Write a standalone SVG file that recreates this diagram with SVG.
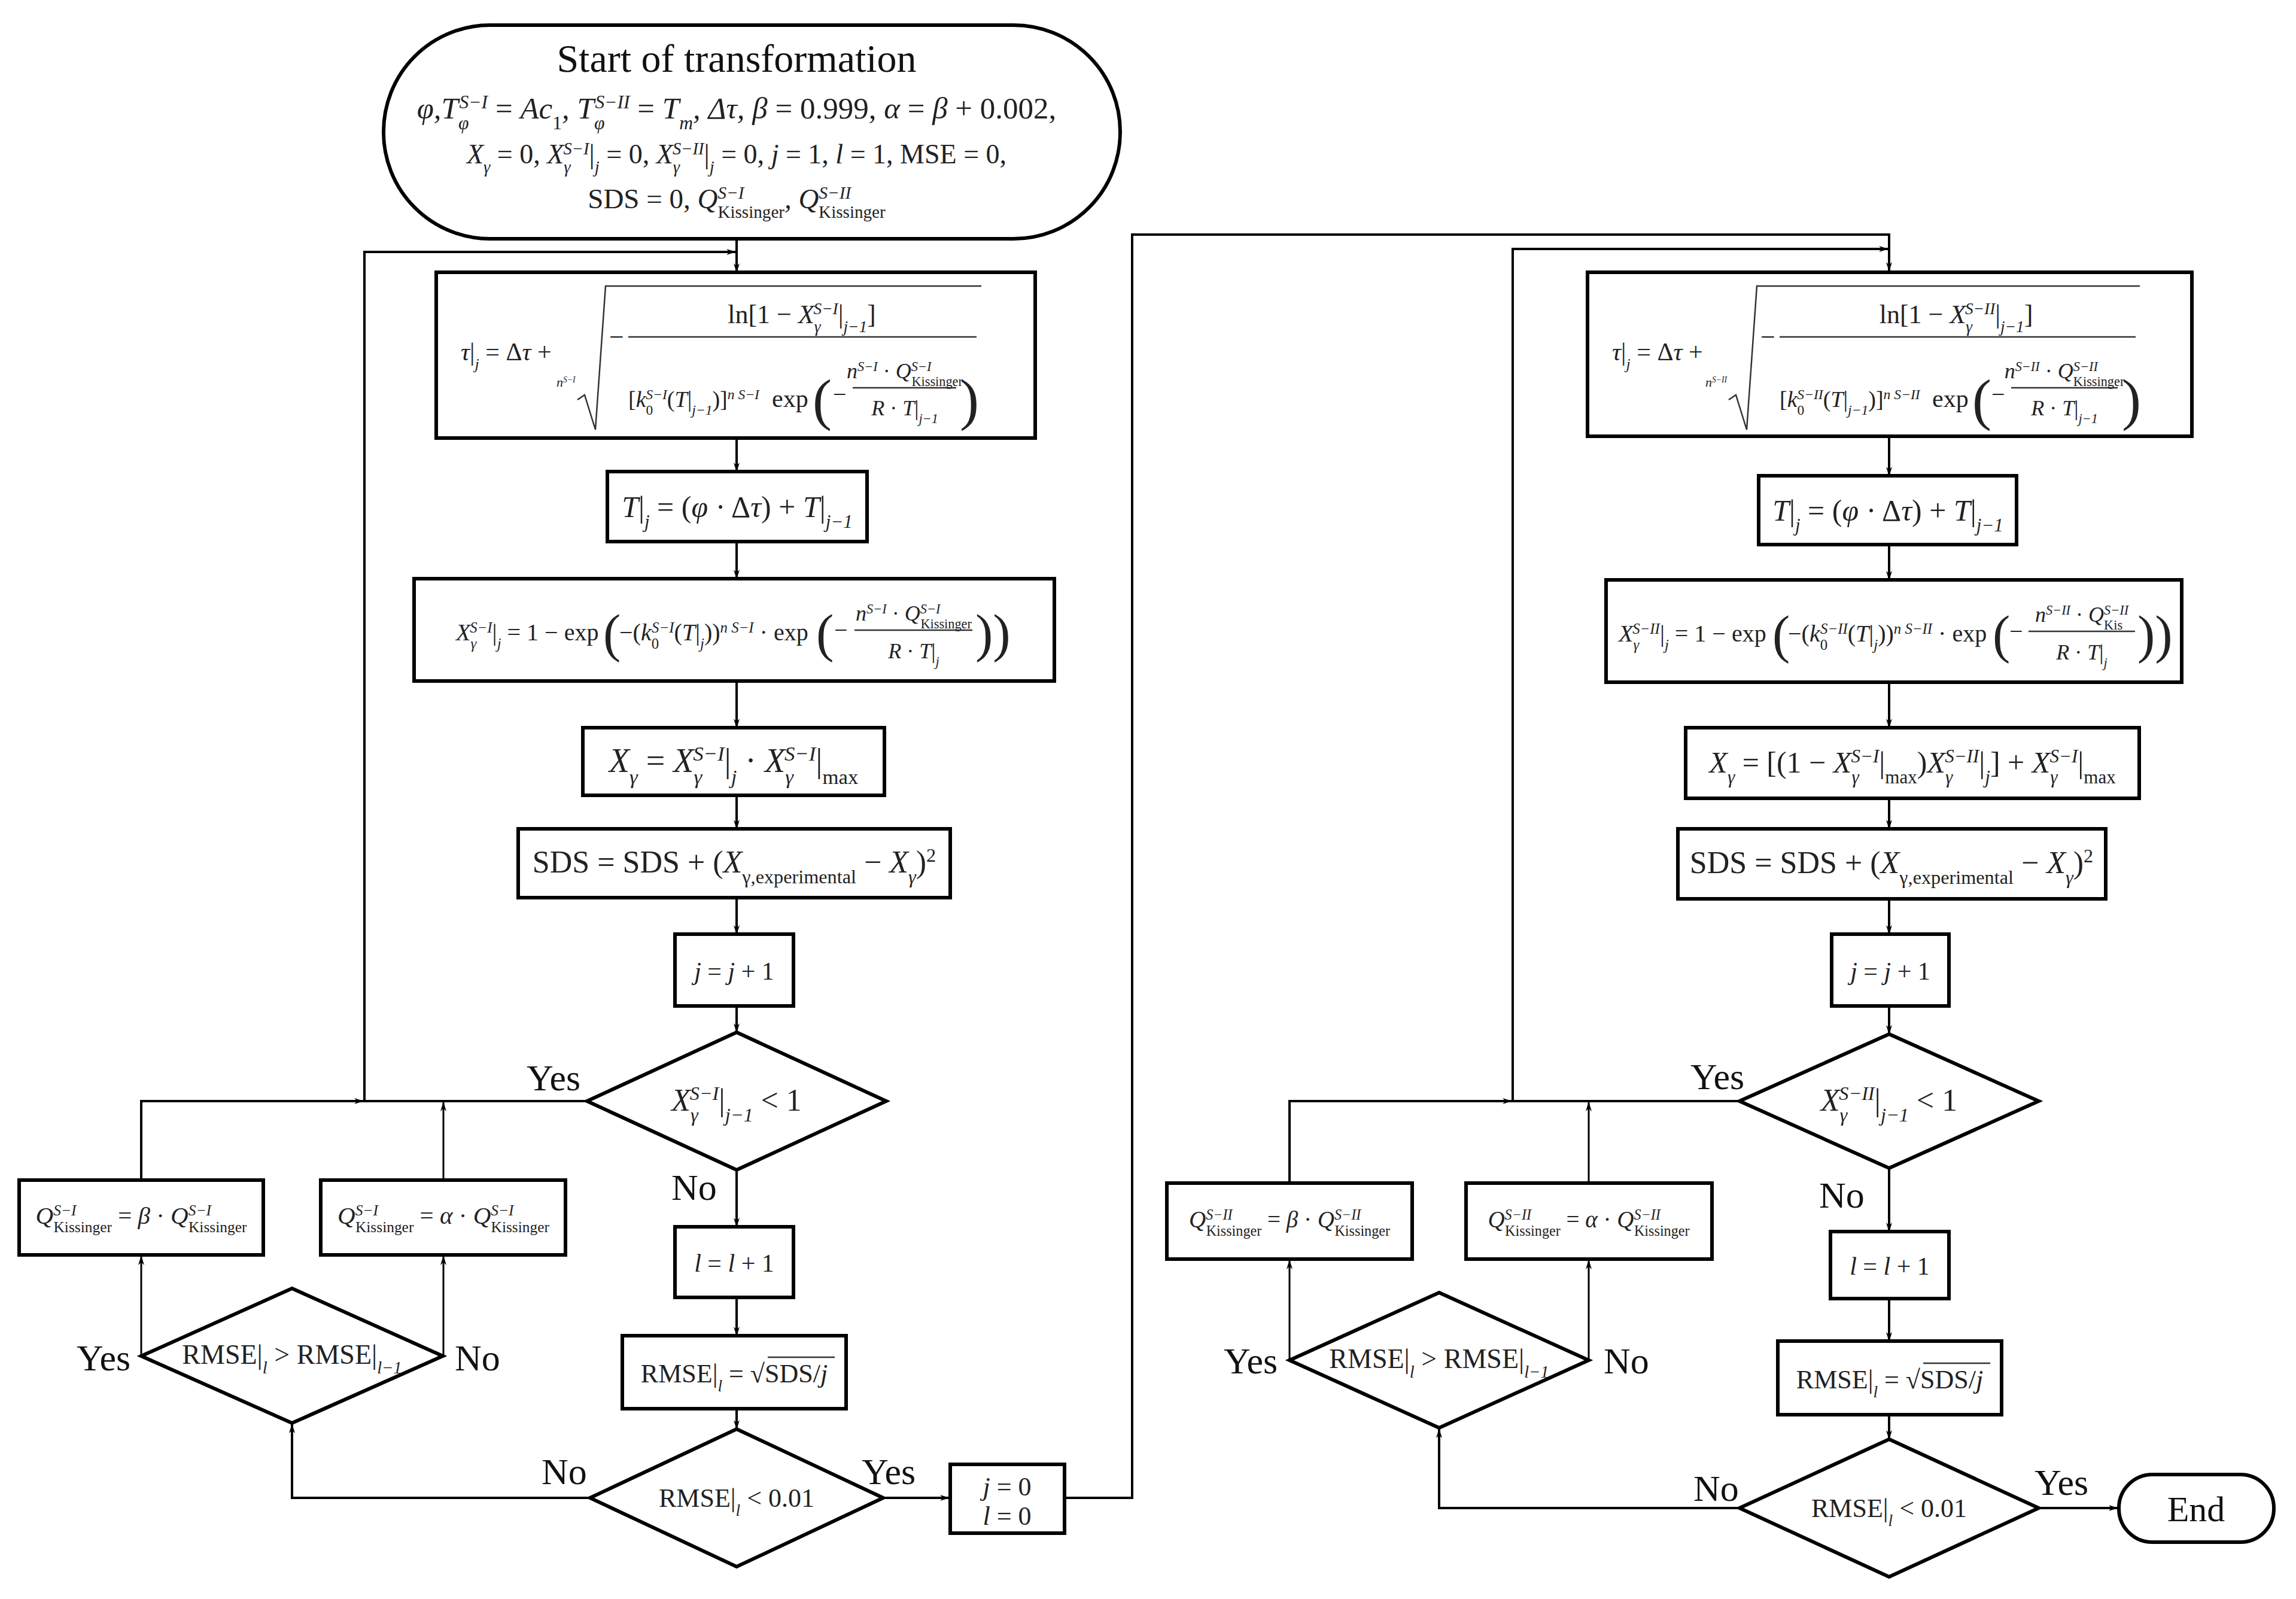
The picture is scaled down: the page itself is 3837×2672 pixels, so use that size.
<svg xmlns="http://www.w3.org/2000/svg" width="3837" height="2672" viewBox="0 0 3837 2672">
<defs>
<marker id="ar" viewBox="0 0 16 10" refX="15" refY="5" markerWidth="16" markerHeight="10" markerUnits="userSpaceOnUse" orient="auto">
<path d="M0,0 L16,5 L0,10 L5,5 z" fill="#000"/>
</marker>
<style>
.n{fill:#fff;stroke:#000;stroke-width:6}
.c{fill:none;stroke:#000;stroke-width:4}
.c2{fill:none;stroke:#000;stroke-width:3}
.m{font-family:"Liberation Serif",serif;font-style:italic;fill:#222}
.r{font-style:normal}
.sp{font-size:62%;baseline-shift:super}
.sb{font-size:62%;baseline-shift:sub}
.lb{font-family:"Liberation Serif",serif;font-size:62px;fill:#111}
.t{font-family:"Liberation Serif",serif;fill:#111}
.fl{stroke:#333;stroke-width:2.5;fill:none}
</style>
</defs>

<g id="connectors">
<path class="c" marker-end="url(#ar)" d="M1231,399 V455"/>
<path class="c" marker-end="url(#ar)" d="M1231,732 V788"/>
<path class="c" marker-end="url(#ar)" d="M1231,905 V967"/>
<path class="c" marker-end="url(#ar)" d="M1231,1138 V1216"/>
<path class="c" marker-end="url(#ar)" d="M1231,1329 V1385"/>
<path class="c" marker-end="url(#ar)" d="M1231,1500 V1561"/>
<path class="c" marker-end="url(#ar)" d="M1231,1681 V1725"/>
<path class="c" marker-end="url(#ar)" d="M1231,1955 V2050"/>
<path class="c" marker-end="url(#ar)" d="M1231,2168 V2232"/>
<path class="c" marker-end="url(#ar)" d="M1231,2354 V2388"/>
<path class="c" marker-end="url(#ar)" d="M981,1840 H609 V421 H1229"/>
<path class="c" marker-end="url(#ar)" d="M236,1972 V1840 H607"/>
<path class="c2" marker-end="url(#ar)" d="M741,1972 V1842"/>
<path class="c2" marker-end="url(#ar)" d="M236,2266 V2099"/>
<path class="c2" marker-end="url(#ar)" d="M741,2266 V2099"/>
<path class="c" marker-end="url(#ar)" d="M986,2503 H488 V2380"/>
<path class="c" marker-end="url(#ar)" d="M1476,2503 H1586"/>
<path class="c" marker-end="url(#ar)" d="M1779,2503 H1892 V392 H3157 V453"/>

<path class="c" marker-end="url(#ar)" d="M3157,729 V795"/>
<path class="c" marker-end="url(#ar)" d="M3157,910 V969"/>
<path class="c" marker-end="url(#ar)" d="M3157,1140 V1216"/>
<path class="c" marker-end="url(#ar)" d="M3157,1334 V1385"/>
<path class="c" marker-end="url(#ar)" d="M3157,1502 V1561"/>
<path class="c" marker-end="url(#ar)" d="M3157,1681 V1728"/>
<path class="c" marker-end="url(#ar)" d="M3157,1952 V2058"/>
<path class="c" marker-end="url(#ar)" d="M3157,2170 V2241"/>
<path class="c" marker-end="url(#ar)" d="M3157,2364 V2405"/>
<path class="c" marker-end="url(#ar)" d="M2907,1840 H2528 V416 H3155"/>
<path class="c" marker-end="url(#ar)" d="M2155,1977 V1840 H2526"/>
<path class="c2" marker-end="url(#ar)" d="M2655,1977 V1842"/>
<path class="c2" marker-end="url(#ar)" d="M2155,2273 V2106"/>
<path class="c2" marker-end="url(#ar)" d="M2655,2273 V2106"/>
<path class="c" marker-end="url(#ar)" d="M2907,2520 H2405 V2388"/>
<path class="c" marker-end="url(#ar)" d="M3407,2520 H3539"/>

<text class="lb" x="880" y="1822">Yes</text>
<text class="lb" x="1122" y="2005">No</text>
<text class="lb" x="128" y="2290">Yes</text>
<text class="lb" x="760" y="2290">No</text>
<text class="lb" x="905" y="2480">No</text>
<text class="lb" x="1440" y="2480">Yes</text>
<text class="lb" x="2825" y="1820">Yes</text>
<text class="lb" x="3040" y="2018">No</text>
<text class="lb" x="2045" y="2295">Yes</text>
<text class="lb" x="2680" y="2295">No</text>
<text class="lb" x="2830" y="2508">No</text>
<text class="lb" x="3400" y="2498">Yes</text>
</g>

<g id="start">
<rect class="n" x="641" y="42" width="1231" height="357" rx="178"/>
<text class="t" x="1231" y="120" text-anchor="middle" style="font-size:66px">Start of transformation</text>
<text class="m" x="1231" y="198" text-anchor="middle" style="font-size:51px">φ,T<tspan class="sb">φ</tspan><tspan class="sp" dx="-16">S−I</tspan><tspan class="r"> = </tspan>Ac<tspan class="sb r">1</tspan>, T<tspan class="sb">φ</tspan><tspan class="sp" dx="-16">S−II</tspan><tspan class="r"> = </tspan>T<tspan class="sb">m</tspan>, Δτ, β<tspan class="r"> = 0.999, </tspan>α<tspan class="r"> = </tspan>β<tspan class="r"> + 0.002,</tspan></text>
<text class="m" x="1231" y="273" text-anchor="middle" style="font-size:46px">X<tspan class="sb">γ</tspan><tspan class="r"> = 0,  </tspan>X<tspan class="sb">γ</tspan><tspan class="sp" dx="-12">S−I</tspan><tspan class="r">|</tspan><tspan class="sb">j</tspan><tspan class="r"> = 0,  </tspan>X<tspan class="sb">γ</tspan><tspan class="sp" dx="-12">S−II</tspan><tspan class="r">|</tspan><tspan class="sb">j</tspan><tspan class="r"> = 0, </tspan>j<tspan class="r"> = 1, </tspan>l<tspan class="r"> = 1, MSE = 0,</tspan></text>
<text class="m" x="1231" y="348" text-anchor="middle" style="font-size:47px"><tspan class="r">SDS = 0, </tspan>Q<tspan class="sp">S−I</tspan><tspan class="sb r" dx="-44">Kissinger</tspan>, Q<tspan class="sp">S−II</tspan><tspan class="sb r" dx="-54">Kissinger</tspan></text>
</g>

<g id="tau1">
<rect class="n" x="729" y="455" width="1001" height="277"/>
<text class="m" x="770" y="602" style="font-size:42px">τ<tspan class="r">|</tspan><tspan class="sb">j</tspan><tspan class="r"> = Δ</tspan>τ<tspan class="r"> +</tspan></text>
<text class="m" x="930" y="646" style="font-size:22px">n<tspan class="sp">S−I</tspan></text>
<polyline class="fl" points="965,668 977,660 995,718 1012,478 1640,478"/>
<text class="m r" x="1018" y="578" style="font-size:44px">−</text>
<line class="fl" x1="1050" y1="563" x2="1632" y2="563"/>
<text class="m" x="1340" y="540" text-anchor="middle" style="font-size:44px"><tspan class="r">ln[1 − </tspan>X<tspan class="sb">γ</tspan><tspan class="sp" dx="-12">S−I</tspan><tspan class="r">|</tspan><tspan class="sb">j−1</tspan><tspan class="r">]</tspan></text>
<text class="m" x="1050" y="680" style="font-size:38px"><tspan class="r">[</tspan>k<tspan class="sb r">0</tspan><tspan class="sp" dx="-12">S−I</tspan><tspan class="r">(</tspan>T<tspan class="r">|</tspan><tspan class="sb">j−1</tspan><tspan class="r">)]</tspan><tspan class="sp">n S−I</tspan></text>
<text class="m r" x="1290" y="680" style="font-size:42px">exp</text>
<text class="m r" x="1358" y="700" style="font-size:96px">(</text>
<text class="m r" x="1604" y="700" style="font-size:96px">)</text>
<text class="m r" x="1392" y="672" style="font-size:40px">−</text>
<line class="fl" x1="1425" y1="648" x2="1598" y2="648"/>
<text class="m" x="1512" y="632" text-anchor="middle" style="font-size:36px">n<tspan class="sp">S−I</tspan><tspan class="r"> · </tspan>Q<tspan class="sp">S−I</tspan><tspan class="sb r" dx="-33">Kissinger</tspan></text>
<text class="m" x="1512" y="694" text-anchor="middle" style="font-size:36px">R<tspan class="r"> · </tspan>T<tspan class="r">|</tspan><tspan class="sb">j−1</tspan></text>
</g>

<g id="T1">
<rect class="n" x="1015" y="788" width="434" height="117"/>
<text class="m" x="1232" y="864" text-anchor="middle" style="font-size:50px">T<tspan class="r">|</tspan><tspan class="sb">j</tspan><tspan class="r"> = (</tspan>φ<tspan class="r"> · Δ</tspan>τ<tspan class="r">) + </tspan>T<tspan class="r">|</tspan><tspan class="sb">j−1</tspan></text>
</g>

<g id="X1">
<rect class="n" x="692" y="967" width="1070" height="171"/>
<text class="m" x="762" y="1070" style="font-size:40px">X<tspan class="sb">γ</tspan><tspan class="sp" dx="-11">S−I</tspan><tspan class="r">|</tspan><tspan class="sb">j</tspan><tspan class="r"> = 1 − exp</tspan></text>
<text class="m r" x="1008" y="1088" style="font-size:88px">(</text>
<text class="m" x="1035" y="1070" style="font-size:40px"><tspan class="r">−(</tspan>k<tspan class="sb r">0</tspan><tspan class="sp" dx="-12">S−I</tspan><tspan class="r">(</tspan>T<tspan class="r">|</tspan><tspan class="sb">j</tspan><tspan class="r">))</tspan><tspan class="sp">n S−I</tspan><tspan class="r"> · exp</tspan></text>
<text class="m r" x="1364" y="1088" style="font-size:88px">(</text>
<text class="m r" x="1394" y="1066" style="font-size:40px">−</text>
<line class="fl" x1="1428" y1="1053" x2="1625" y2="1053"/>
<text class="m" x="1527" y="1037" text-anchor="middle" style="font-size:36px">n<tspan class="sp">S−I</tspan><tspan class="r"> · </tspan>Q<tspan class="sp">S−I</tspan><tspan class="sb r" dx="-33">Kissinger</tspan></text>
<text class="m" x="1527" y="1100" text-anchor="middle" style="font-size:36px">R<tspan class="r"> · </tspan>T<tspan class="r">|</tspan><tspan class="sb">j</tspan></text>
<text class="m r" x="1630" y="1088" style="font-size:88px">))</text>
</g>

<g id="Xg1">
<rect class="n" x="974" y="1216" width="504" height="113"/>
<text class="m" x="1226" y="1290" text-anchor="middle" style="font-size:56px">X<tspan class="sb">γ</tspan><tspan class="r"> = </tspan>X<tspan class="sb">γ</tspan><tspan class="sp" dx="-15">S−I</tspan><tspan class="r">|</tspan><tspan class="sb">j</tspan><tspan class="r"> · </tspan>X<tspan class="sb">γ</tspan><tspan class="sp" dx="-15">S−I</tspan><tspan class="r">|</tspan><tspan class="sb r">max</tspan></text>
</g>

<g id="SDS1">
<rect class="n" x="866" y="1385" width="722" height="115"/>
<text class="m" x="1227" y="1458" text-anchor="middle" style="font-size:52px"><tspan class="r">SDS = SDS + (</tspan>X<tspan class="sb r">γ,experimental</tspan><tspan class="r"> − </tspan>X<tspan class="sb">γ</tspan><tspan class="r">)</tspan><tspan class="sp r">2</tspan></text>
</g>

<g id="jinc1">
<rect class="n" x="1128" y="1561" width="198" height="120"/>
<text class="m" x="1227" y="1637" text-anchor="middle" style="font-size:42px">j<tspan class="r"> = </tspan>j<tspan class="r"> + 1</tspan></text>
</g>

<g id="d1">
<polygon class="n" points="1231,1725 1481,1840 1231,1955 981,1840"/>
<text class="m" x="1231" y="1856" text-anchor="middle" style="font-size:52px">X<tspan class="sb">γ</tspan><tspan class="sp" dx="-14">S−I</tspan><tspan class="r">|</tspan><tspan class="sb">j−1</tspan><tspan class="r"> &lt; 1</tspan></text>
</g>

<g id="Qb1">
<rect class="n" x="32" y="1972" width="408" height="125"/>
<text class="m" x="236" y="2045" text-anchor="middle" style="font-size:41px">Q<tspan class="sp">S−I</tspan><tspan class="sb r" dx="-38">Kissinger</tspan><tspan class="r"> = </tspan>β<tspan class="r"> · </tspan>Q<tspan class="sp">S−I</tspan><tspan class="sb r" dx="-38">Kissinger</tspan></text>
</g>
<g id="Qa1">
<rect class="n" x="536" y="1972" width="409" height="125"/>
<text class="m" x="741" y="2045" text-anchor="middle" style="font-size:41px">Q<tspan class="sp">S−I</tspan><tspan class="sb r" dx="-38">Kissinger</tspan><tspan class="r"> = </tspan>α<tspan class="r"> · </tspan>Q<tspan class="sp">S−I</tspan><tspan class="sb r" dx="-38">Kissinger</tspan></text>
</g>

<g id="d2">
<polygon class="n" points="488,2153 740,2266 488,2378 236,2266"/>
<text class="m" x="488" y="2279" text-anchor="middle" style="font-size:46px"><tspan class="r">RMSE|</tspan><tspan class="sb">l</tspan><tspan class="r"> &gt; RMSE|</tspan><tspan class="sb">l−1</tspan></text>
</g>

<g id="linc1">
<rect class="n" x="1128" y="2050" width="198" height="118"/>
<text class="m" x="1227" y="2125" text-anchor="middle" style="font-size:42px">l<tspan class="r"> = </tspan>l<tspan class="r"> + 1</tspan></text>
</g>

<g id="rmse1">
<rect class="n" x="1040" y="2232" width="374" height="122"/>
<text class="m" x="1227" y="2310" text-anchor="middle" style="font-size:44px"><tspan class="r">RMSE|</tspan><tspan class="sb">l</tspan><tspan class="r"> = √SDS/</tspan>j</text>
<line class="fl" x1="1283" y1="2268" x2="1395" y2="2268"/>
</g>

<g id="d3">
<polygon class="n" points="1231,2388 1476,2503 1231,2618 986,2503"/>
<text class="m" x="1231" y="2518" text-anchor="middle" style="font-size:44px"><tspan class="r">RMSE|</tspan><tspan class="sb">l</tspan><tspan class="r"> &lt; 0.01</tspan></text>
</g>

<g id="reset">
<rect class="n" x="1588" y="2447" width="191" height="115"/>
<text class="m" x="1683" y="2499" text-anchor="middle" style="font-size:44px">j<tspan class="r"> = 0</tspan></text>
<text class="m" x="1683" y="2548" text-anchor="middle" style="font-size:44px">l<tspan class="r"> = 0</tspan></text>
</g>

<g id="tau2">
<rect class="n" x="2653" y="455" width="1010" height="274"/>
<g transform="translate(1924,0)">
<text class="m" x="770" y="602" style="font-size:42px">τ<tspan class="r">|</tspan><tspan class="sb">j</tspan><tspan class="r"> = Δ</tspan>τ<tspan class="r"> +</tspan></text>
<text class="m" x="926" y="646" style="font-size:22px">n<tspan class="sp">S−II</tspan></text>
<polyline class="fl" points="965,668 977,660 995,718 1012,478 1652,478"/>
<text class="m r" x="1018" y="578" style="font-size:44px">−</text>
<line class="fl" x1="1050" y1="563" x2="1645" y2="563"/>
<text class="m" x="1345" y="540" text-anchor="middle" style="font-size:44px"><tspan class="r">ln[1 − </tspan>X<tspan class="sb">γ</tspan><tspan class="sp" dx="-12">S−II</tspan><tspan class="r">|</tspan><tspan class="sb">j−1</tspan><tspan class="r">]</tspan></text>
<text class="m" x="1050" y="680" style="font-size:38px"><tspan class="r">[</tspan>k<tspan class="sb r">0</tspan><tspan class="sp" dx="-12">S−II</tspan><tspan class="r">(</tspan>T<tspan class="r">|</tspan><tspan class="sb">j−1</tspan><tspan class="r">)]</tspan><tspan class="sp">n S−II</tspan></text>
<text class="m r" x="1305" y="680" style="font-size:42px">exp</text>
<text class="m r" x="1372" y="700" style="font-size:96px">(</text>
<text class="m r" x="1622" y="700" style="font-size:96px">)</text>
<text class="m r" x="1404" y="672" style="font-size:40px">−</text>
<line class="fl" x1="1437" y1="648" x2="1615" y2="648"/>
<text class="m" x="1526" y="632" text-anchor="middle" style="font-size:36px">n<tspan class="sp">S−II</tspan><tspan class="r"> · </tspan>Q<tspan class="sp">S−II</tspan><tspan class="sb r" dx="-41">Kissinger</tspan></text>
<text class="m" x="1526" y="694" text-anchor="middle" style="font-size:36px">R<tspan class="r"> · </tspan>T<tspan class="r">|</tspan><tspan class="sb">j−1</tspan></text>
</g>
</g>

<g id="T2">
<rect class="n" x="2939" y="795" width="431" height="115"/>
<text class="m" x="3155" y="870" text-anchor="middle" style="font-size:50px">T<tspan class="r">|</tspan><tspan class="sb">j</tspan><tspan class="r"> = (</tspan>φ<tspan class="r"> · Δ</tspan>τ<tspan class="r">) + </tspan>T<tspan class="r">|</tspan><tspan class="sb">j−1</tspan></text>
</g>

<g id="X2">
<rect class="n" x="2684" y="969" width="962" height="171"/>
<text class="m" x="2705" y="1072" style="font-size:40px">X<tspan class="sb">γ</tspan><tspan class="sp" dx="-11">S−II</tspan><tspan class="r">|</tspan><tspan class="sb">j</tspan><tspan class="r"> = 1 − exp</tspan></text>
<text class="m r" x="2962" y="1090" style="font-size:88px">(</text>
<text class="m" x="2988" y="1072" style="font-size:40px"><tspan class="r">−(</tspan>k<tspan class="sb r">0</tspan><tspan class="sp" dx="-12">S−II</tspan><tspan class="r">(</tspan>T<tspan class="r">|</tspan><tspan class="sb">j</tspan><tspan class="r">))</tspan><tspan class="sp">n S−II</tspan><tspan class="r"> · exp</tspan></text>
<text class="m r" x="3330" y="1090" style="font-size:88px">(</text>
<text class="m r" x="3358" y="1068" style="font-size:40px">−</text>
<line class="fl" x1="3390" y1="1055" x2="3568" y2="1055"/>
<text class="m" x="3479" y="1039" text-anchor="middle" style="font-size:36px">n<tspan class="sp">S−II</tspan><tspan class="r"> · </tspan>Q<tspan class="sp">S−II</tspan><tspan class="sb r" dx="-41">Kis</tspan></text>
<text class="m" x="3479" y="1102" text-anchor="middle" style="font-size:36px">R<tspan class="r"> · </tspan>T<tspan class="r">|</tspan><tspan class="sb">j</tspan></text>
<text class="m r" x="3572" y="1090" style="font-size:88px">))</text>
</g>

<g id="Xg2">
<rect class="n" x="2817" y="1216" width="758" height="118"/>
<text class="m" x="3196" y="1291" text-anchor="middle" style="font-size:50px">X<tspan class="sb">γ</tspan><tspan class="r"> = [(1 − </tspan>X<tspan class="sb">γ</tspan><tspan class="sp" dx="-13">S−I</tspan><tspan class="r">|</tspan><tspan class="sb r">max</tspan><tspan class="r">)</tspan>X<tspan class="sb">γ</tspan><tspan class="sp" dx="-13">S−II</tspan><tspan class="r">|</tspan><tspan class="sb">j</tspan><tspan class="r">] + </tspan>X<tspan class="sb">γ</tspan><tspan class="sp" dx="-13">S−I</tspan><tspan class="r">|</tspan><tspan class="sb r">max</tspan></text>
</g>

<g id="SDS2">
<rect class="n" x="2804" y="1385" width="715" height="117"/>
<text class="m" x="3161" y="1459" text-anchor="middle" style="font-size:52px"><tspan class="r">SDS = SDS + (</tspan>X<tspan class="sb r">γ,experimental</tspan><tspan class="r"> − </tspan>X<tspan class="sb">γ</tspan><tspan class="r">)</tspan><tspan class="sp r">2</tspan></text>
</g>

<g id="jinc2">
<rect class="n" x="3061" y="1561" width="196" height="120"/>
<text class="m" x="3159" y="1637" text-anchor="middle" style="font-size:42px">j<tspan class="r"> = </tspan>j<tspan class="r"> + 1</tspan></text>
</g>

<g id="d4">
<polygon class="n" points="3157,1728 3407,1840 3157,1952 2907,1840"/>
<text class="m" x="3157" y="1856" text-anchor="middle" style="font-size:52px">X<tspan class="sb">γ</tspan><tspan class="sp" dx="-14">S−II</tspan><tspan class="r">|</tspan><tspan class="sb">j−1</tspan><tspan class="r"> &lt; 1</tspan></text>
</g>

<g id="Qb2">
<rect class="n" x="1950" y="1977" width="410" height="127"/>
<text class="m" x="2155" y="2051" text-anchor="middle" style="font-size:39px">Q<tspan class="sp">S−II</tspan><tspan class="sb r" dx="-44">Kissinger</tspan><tspan class="r"> = </tspan>β<tspan class="r"> · </tspan>Q<tspan class="sp">S−II</tspan><tspan class="sb r" dx="-44">Kissinger</tspan></text>
</g>
<g id="Qa2">
<rect class="n" x="2450" y="1977" width="411" height="127"/>
<text class="m" x="2655" y="2051" text-anchor="middle" style="font-size:39px">Q<tspan class="sp">S−II</tspan><tspan class="sb r" dx="-44">Kissinger</tspan><tspan class="r"> = </tspan>α<tspan class="r"> · </tspan>Q<tspan class="sp">S−II</tspan><tspan class="sb r" dx="-44">Kissinger</tspan></text>
</g>

<g id="d5">
<polygon class="n" points="2405,2160 2655,2273 2405,2386 2155,2273"/>
<text class="m" x="2405" y="2286" text-anchor="middle" style="font-size:46px"><tspan class="r">RMSE|</tspan><tspan class="sb">l</tspan><tspan class="r"> &gt; RMSE|</tspan><tspan class="sb">l−1</tspan></text>
</g>

<g id="linc2">
<rect class="n" x="3059" y="2058" width="198" height="112"/>
<text class="m" x="3158" y="2130" text-anchor="middle" style="font-size:42px">l<tspan class="r"> = </tspan>l<tspan class="r"> + 1</tspan></text>
</g>

<g id="rmse2">
<rect class="n" x="2971" y="2241" width="374" height="123"/>
<text class="m" x="3158" y="2320" text-anchor="middle" style="font-size:44px"><tspan class="r">RMSE|</tspan><tspan class="sb">l</tspan><tspan class="r"> = √SDS/</tspan>j</text>
<line class="fl" x1="3214" y1="2278" x2="3326" y2="2278"/>
</g>

<g id="d6">
<polygon class="n" points="3157,2405 3407,2520 3157,2635 2907,2520"/>
<text class="m" x="3157" y="2535" text-anchor="middle" style="font-size:44px"><tspan class="r">RMSE|</tspan><tspan class="sb">l</tspan><tspan class="r"> &lt; 0.01</tspan></text>
</g>

<g id="end">
<rect class="n" x="3541" y="2464" width="259" height="113" rx="56"/>
<text class="t" x="3670" y="2542" text-anchor="middle" style="font-size:60px">End</text>
</g>
</svg>
